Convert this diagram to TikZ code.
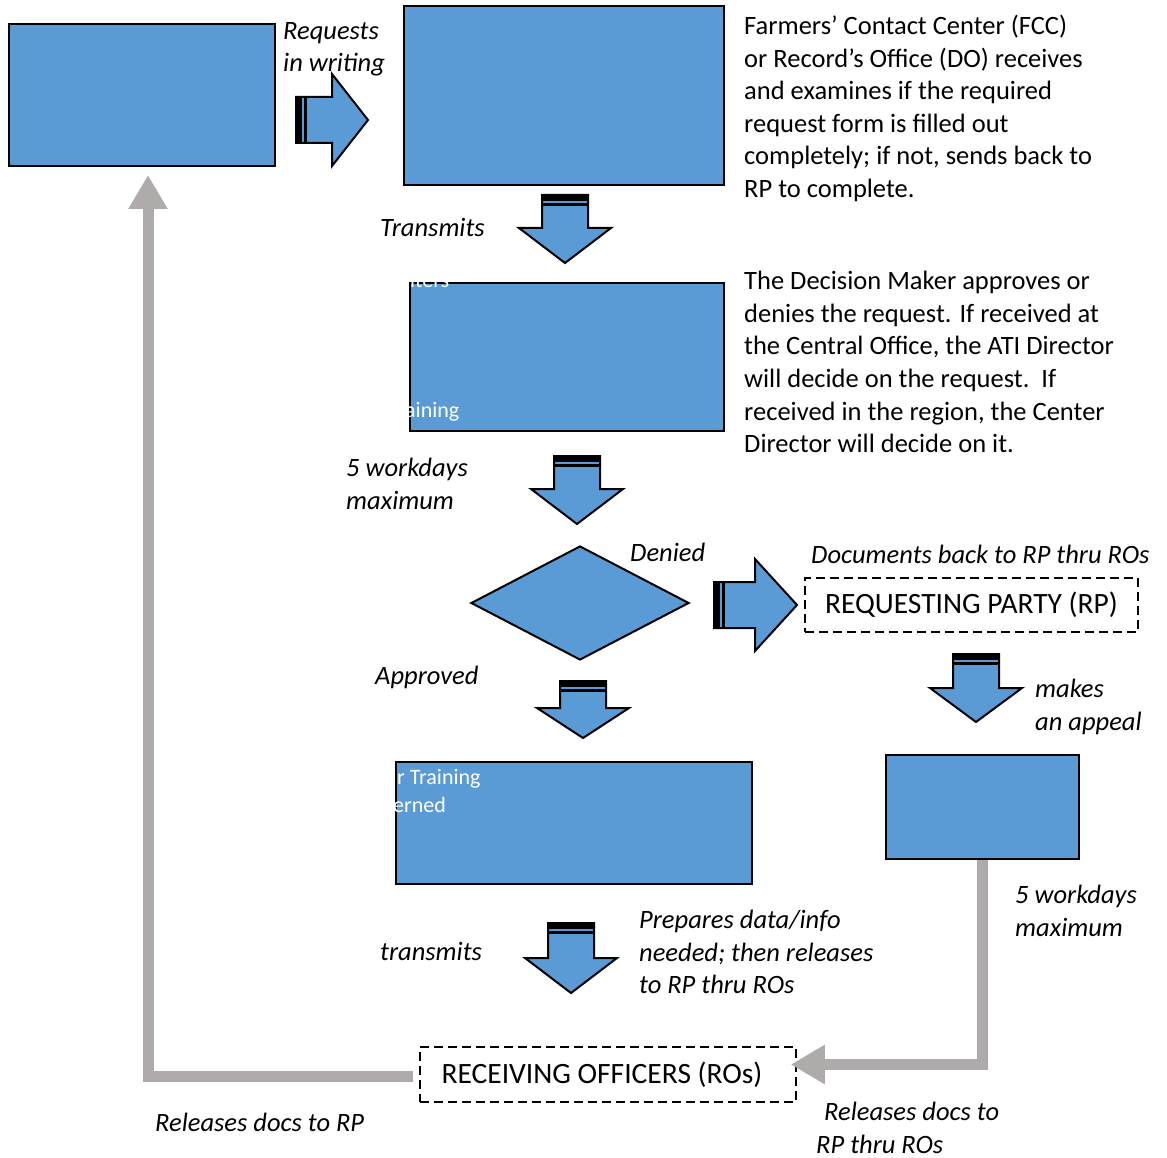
\documentclass[tikz,border=0pt]{standalone}
\usepackage{fontspec}
\setmainfont{Carlito}
\usepackage{tikz}
\usetikzlibrary{positioning,shapes.geometric,arrows.meta}
\definecolor{boxblue}{RGB}{91,155,213}
\definecolor{linegray}{RGB}{175,171,171}

\begin{document}
\begin{tikzpicture}[x=1pt,y=-1pt,box/.style={draw,fill=boxblue,line width=2pt,inner sep=0pt,anchor=north west},party/.style={draw,dash pattern=on 9pt off 5pt,line width=1.5pt,inner sep=0pt,minimum height=54pt,font=\fontsize{29.5}{35}\selectfont},note/.style={anchor=north west,align=left,inner sep=0pt,font=\fontsize{26.5}{32.6}\selectfont},tag/.style={anchor=north west,align=left,inner sep=0pt,font=\fontsize{26.5}{32.6}\selectfont\itshape},hidden/.style={anchor=base west,inner sep=0pt,text=white,font=\fontsize{22}{26}\selectfont},back/.style={linegray,line width=11pt,-{Triangle[length=34pt,width=37pt]}},
    pics/blk/.style 2 args={code={
        \fill[boxblue] (-23,0) -- (23,0) -- (23,#1) -- (46,#1) -- (0,#2) -- (-46,#1) -- (-23,#1) -- cycle;
        \fill (-23,0) rectangle (23,6);
        \fill (-23,8) rectangle (23,11);
        \draw[line width=2pt] (-23,0) -- (23,0) -- (23,#1) -- (46,#1) -- (0,#2) -- (-46,#1) -- (-23,#1) -- cycle;
    }}]
        \useasboundingbox (0,0) rectangle (1167,1158);
        
        \node[box,minimum width=266pt,minimum height=142pt] (rp1) at (8,23) {};
        \node[box,minimum width=320pt,minimum height=179pt] (fcc) at (403,5) {};
        \node[box,minimum width=314pt,minimum height=148pt] (dm) at (409,282) {};
        \node[draw,fill=boxblue,diamond,line width=2pt,inner sep=0pt,minimum width=218pt,minimum height=114pt] (dec) at (580,603) {};
        \node[box,minimum width=356pt,minimum height=122pt] (ati) at (395,761) {};
        \node[box,minimum width=193pt,minimum height=104pt] (appeal) at (885,754) {};
        
        \node[party,minimum width=333pt] (rp2) at (971.5,605) {REQUESTING PARTY (RP)};
        \node[party,minimum width=376pt,minimum height=55pt] (ro) at (608,1074.5) {RECEIVING OFFICERS (ROs)\hspace*{12pt}};
        
        \node[hidden] (h1) at (410,288) {iters};
        \node[hidden] (h2) at (405,417) {aining};
        \node[hidden] (h3) at (397,784) {r Training};
        \node[hidden] (h4) at (393,812) {erned};
        
        \pic[rotate=90] at (296,120) {blk={36}{72}};
        \pic at (565,195) {blk={33}{68}};
        \pic at (577,456) {blk={33}{68}};
        \pic[rotate=90] at (714,605) {blk={41}{83}};
        \pic at (976,654) {blk={34}{68}};
        \pic at (583,681) {blk={27}{57}};
        \pic at (571,923) {blk={35}{70}};
        
        \draw[back] (appeal.south) |- ([xshift=-6pt,yshift=10pt]ro.east);
        \draw[back] ([xshift=-6pt,yshift=-2pt]ro.west) -| ([xshift=6pt,yshift=-8pt]rp1.south);
        
        \node[note] (fcctext) at (744,15) {Farmers’ Contact Center (FCC)\\or Record’s Office (DO) receives\\and examines if the required\\request form is filled out\\completely; if not, sends back to\\RP to complete.};
        \node[note] (dmtext) at (744,271) {The Decision Maker approves or\\denies the request. If received at\\the Central Office, the ATI Director\\will decide on the request.\ \ If\\received in the region, the Center\\Director will decide on it.};
        
        \node[tag] (l1) at (283,22) {Requests\\in writing};
        \node[tag] (l2) at (380,218) {Transmits};
        \node[tag] (l3) at (346,458) {5 workdays\\maximum};
        \node[tag] (l4) at (630,543) {Denied};
        \node[tag] (l5) at (811,545) {Documents back to RP thru ROs};
        \node[tag] (l6) at (1035,679) {makes\\an appeal};
        \node[tag] (l7) at (375,666) {Approved};
        \node[tag] (l8) at (1015,885) {5 workdays\\maximum};
        \node[tag] (l9) at (380,942) {transmits};
        \node[tag] (l10) at (639,910) {Prepares data/info\\needed; then releases\\to RP thru ROs};
        \node[tag] (l11) at (155,1113) {Releases docs to RP};
        \node[tag] (l12) at (816,1102) {\hspace*{8pt}Releases docs to\\RP thru ROs};
    \end{tikzpicture}
\end{document}
